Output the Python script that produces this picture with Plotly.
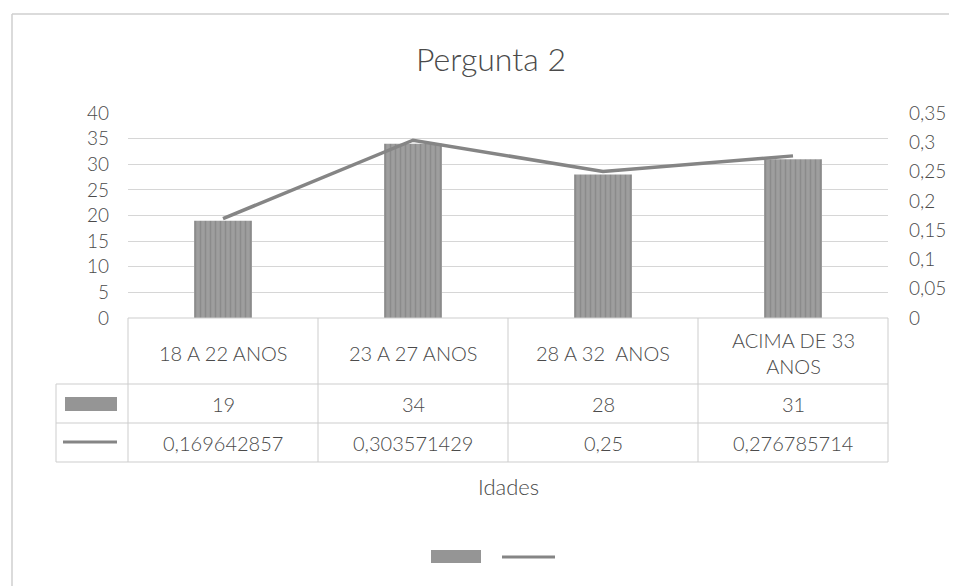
import plotly.graph_objects as go

# ---- data ----
categories = ["18 A 22 ANOS", "23 A 27 ANOS", "28 A 32  ANOS", "ACIMA DE 33 ANOS"]
category_labels = ["18 A 22 ANOS", "23 A 27 ANOS", "28 A 32  ANOS", "ACIMA DE 33<br>ANOS"]
counts = [19, 34, 28, 31]
ratios = [0.169642857, 0.303571429, 0.25, 0.276785714]
left_ticks = [0, 5, 10, 15, 20, 25, 30, 35, 40]
right_ticks = [0, 0.05, 0.1, 0.15, 0.2, 0.25, 0.3, 0.35]
title_text = "Pergunta 2"
axis_title = "Idades"

# page is rendered with an 8px body margin, so the figure sits at (8, 8)
OFF = 8
W, H = 957 - OFF, 586 - OFF
PL, PR, PT, PB = 128, 888, 113, 318  # plot area in page pixels

def X(px):
    return (px - PL) / (PR - PL)

def Y(py):
    return (PB - py) / (PB - PT)

FONT = "Lato"
TXT = "#4a4a4a"
GRID = "#d6d6d6"
TLINE = "#cdcdcd"
BARC = "#959595"
LINEC = "#858585"

def fmt(v):
    return str(v).replace(".", ",")

def font(size):
    return dict(family=FONT, size=size, color=TXT, weight=300)

fig = go.Figure()
fig.add_trace(go.Bar(
    x=categories, y=counts, yaxis="y",
    marker=dict(color=BARC, line=dict(width=0),
                pattern=dict(shape="|", fgcolor="#777777", bgcolor="#9e9e9e", size=5, solidity=0.3)),
    showlegend=False, hoverinfo="skip",
))
fig.add_trace(go.Scatter(
    x=categories, y=ratios, yaxis="y2", mode="lines",
    line=dict(color=LINEC, width=3.5),
    showlegend=False, hoverinfo="skip",
))

shapes = []
def hline(x0, x1, y, color=TLINE, w=1):
    shapes.append(dict(type="line", xref="paper", yref="paper", x0=X(x0), x1=X(x1), y0=Y(y), y1=Y(y),
                       line=dict(color=color, width=w)))
def vline(x, y0, y1, color=TLINE, w=1):
    shapes.append(dict(type="line", xref="paper", yref="paper", x0=X(x), x1=X(x), y0=Y(y0), y1=Y(y1),
                       line=dict(color=color, width=w)))

# data table grid
hline(128, 888, 318)
for yy in (384, 423, 462):
    hline(56, 888, yy)
for xx in (128, 318, 508, 698, 888):
    vline(xx, 318, 462)
vline(56, 384, 462)

# legend keys in the table
shapes.append(dict(type="rect", xref="paper", yref="paper", x0=X(65), x1=X(117), y0=Y(411), y1=Y(397),
                   fillcolor=BARC, line=dict(width=0)))
shapes.append(dict(type="line", xref="paper", yref="paper", x0=X(63), x1=X(117), y0=Y(442), y1=Y(442),
                   line=dict(color=LINEC, width=3)))
# bottom legend
shapes.append(dict(type="rect", xref="paper", yref="paper", x0=X(431), x1=X(481), y0=Y(563), y1=Y(550),
                   fillcolor=BARC, line=dict(width=0)))
shapes.append(dict(type="line", xref="paper", yref="paper", x0=X(502), x1=X(555), y0=Y(557), y1=Y(557),
                   line=dict(color=LINEC, width=3)))
# chart border (left and top)
shapes.append(dict(type="line", xref="paper", yref="paper", x0=X(12), x1=X(12), y0=Y(14), y1=Y(600),
                   line=dict(color="#cfcfcf", width=1.5)))
shapes.append(dict(type="line", xref="paper", yref="paper", x0=X(12), x1=X(960), y0=Y(14), y1=Y(14),
                   line=dict(color="#cfcfcf", width=1.5)))

annotations = []
for cat, lab, c, r in zip(categories, category_labels, counts, ratios):
    annotations.append(dict(x=cat, xref="x", y=Y(353), yref="paper", text=lab, showarrow=False,
                            font=font(20), yanchor="middle", align="center"))
    annotations.append(dict(x=cat, xref="x", y=Y(404), yref="paper", text=str(c), showarrow=False,
                            font=font(20), yanchor="middle"))
    annotations.append(dict(x=cat, xref="x", y=Y(443), yref="paper", text=fmt(r), showarrow=False,
                            font=font(20), yanchor="middle"))
annotations.append(dict(x=X(508), xref="paper", y=Y(487), yref="paper", text=axis_title, showarrow=False,
                        font=font(22), yanchor="middle"))

fig.update_layout(
    width=W, height=H,
    margin=dict(l=PL - OFF, r=957 - PR, t=PT - OFF, b=586 - PB),
    paper_bgcolor="white", plot_bgcolor="white",
    bargap=0.695,
    title=dict(text=title_text, x=(491 - OFF) / W, xanchor="center", y=1 - (60 - OFF) / H, yanchor="middle",
               xref="container", yref="container", font=font(32)),
    xaxis=dict(type="category", showticklabels=False, showline=False, showgrid=False, zeroline=False,
               range=[-0.5, 3.5], fixedrange=True),
    yaxis=dict(range=[0, 40], tickvals=left_ticks, ticktext=[fmt(v) for v in left_ticks],
               showgrid=True, gridcolor=GRID, gridwidth=1, zeroline=False, showline=False,
               ticks="", ticklabelstandoff=18, tickfont=font(19)),
    yaxis2=dict(range=[0, 0.35], tickvals=right_ticks, ticktext=[fmt(v) for v in right_ticks],
                overlaying="y", side="right", showgrid=False, zeroline=False, showline=False,
                ticks="", ticklabelstandoff=20, tickfont=font(19)),
    shapes=shapes,
    annotations=annotations,
    showlegend=False,
)

fig.write_html("out.html")
